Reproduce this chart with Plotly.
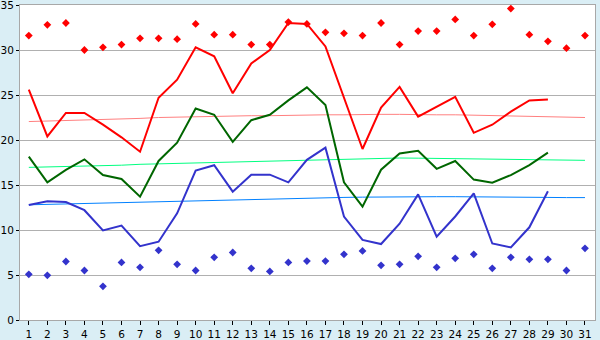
import plotly.graph_objects as go

days = list(range(1, 32))

max_line = [25.6, 20.4, 23.0, 23.0, 21.7, 20.3, 18.7, 24.7, 26.7, 30.3,
            29.3, 25.2, 28.5, 30.0, 33.0, 32.9, 30.4, 24.7, 19.0, 23.6,
            25.9, 22.6, 23.7, 24.8, 20.8, 21.7, 23.15, 24.4, 24.5, None, None]
mean_line = [18.15, 15.3, 16.67, 17.85, 16.1, 15.67, 13.7, 17.67, 19.7, 23.5,
             22.8, 19.8, 22.2, 22.8, 24.4, 25.85, 23.9, 15.3, 12.6, 16.7,
             18.5, 18.8, 16.8, 17.67, 15.6, 15.26, 16.1, 17.2, 18.6, None, None]
min_line = [12.78, 13.2, 13.1, 12.2, 9.96, 10.5, 8.2, 8.7, 11.85, 16.6,
            17.2, 14.26, 16.15, 16.15, 15.3, 17.8, 19.15, 11.5, 8.9, 8.44,
            10.7, 13.96, 9.26, 11.5, 14.07, 8.5, 8.07, 10.3, 14.3, None, None]

max_record = [31.6, 32.8, 33.0, 30.0, 30.3, 30.6, 31.3, 31.3, 31.2, 32.9,
              31.7, 31.7, 30.6, 30.6, 33.1, 32.9, 31.96, 31.85, 31.6, 33.0,
              30.6, 32.1, 32.1, 33.4, 31.6, 32.85, 34.6, 31.7, 30.96, 30.2, 31.6]
min_record = [5.07, 4.96, 6.5, 5.5, 3.74, 6.4, 5.85, 7.74, 6.19, 5.5,
              6.96, 7.5, 5.74, 5.4, 6.4, 6.55, 6.55, 7.3, 7.67, 6.07,
              6.19, 7.07, 5.85, 6.85, 7.3, 5.74, 6.96, 6.74, 6.74, 5.5, 7.96]

max_normal = [22.05, 22.1, 22.15, 22.2, 22.3, 22.35, 22.4, 22.5, 22.55, 22.6,
              22.6, 22.65, 22.7, 22.7, 22.75, 22.75, 22.8, 22.8, 22.85, 22.85,
              22.85, 22.8, 22.8, 22.8, 22.75, 22.7, 22.7, 22.65, 22.6, 22.55, 22.5]
mean_normal = [16.96, 17.0, 17.05, 17.1, 17.15, 17.2, 17.3, 17.35, 17.4, 17.5,
               17.55, 17.6, 17.65, 17.7, 17.75, 17.8, 17.85, 17.9, 17.95, 17.98,
               18.0, 17.98, 17.96, 17.95, 17.92, 17.9, 17.85, 17.82, 17.8, 17.77, 17.74]
min_normal = [12.8, 12.85, 12.9, 12.95, 13.0, 13.05, 13.1, 13.15, 13.2, 13.3,
              13.3, 13.35, 13.4, 13.45, 13.5, 13.55, 13.6, 13.62, 13.65, 13.68,
              13.7, 13.7, 13.7, 13.7, 13.7, 13.68, 13.66, 13.64, 13.62, 13.6, 13.6]

y_ticks = [0, 5, 10, 15, 20, 25, 30, 35]

fig = go.Figure()

def line(y, color, width):
    fig.add_trace(go.Scatter(x=days, y=y, mode="lines",
                             line=dict(color=color, width=width),
                             connectgaps=False, hoverinfo="skip"))

line(max_normal, "#FF8080", 1)
line(mean_normal, "#00FF80", 1)
line(min_normal, "#0080FF", 1)
line(max_line, "#FF0000", 2)
line(mean_line, "#006600", 2)
line(min_line, "#3333CC", 2)

fig.add_trace(go.Scatter(x=days, y=max_record, mode="markers", cliponaxis=False,
                         marker=dict(symbol="diamond", size=6, color="#FF0000")))
fig.add_trace(go.Scatter(x=days, y=min_record, mode="markers", cliponaxis=False,
                         marker=dict(symbol="diamond", size=6, color="#3333CC")))

fig.update_layout(
    width=600, height=340,
    margin=dict(l=20, r=5, t=5, b=20, autoexpand=False),
    paper_bgcolor="#DAEEF5",
    plot_bgcolor="#FFFFFF",
    showlegend=False,
    font=dict(family="DejaVu Sans", size=11, color="#000000"),
)
fig.update_xaxes(range=[0.525, 31.54], tickmode="array", tickvals=days,
                 ticktext=[str(d) for d in days], automargin=False,
                 ticklabeloverflow="allow",
                 showgrid=False, zeroline=False,
                 showline=True, linecolor="#A8A8A8", linewidth=1, mirror=True,
                 ticks="outside", ticklen=4, tickcolor="#000000", tickfont=dict(size=10.5))
fig.update_yaxes(range=[0, 35], tickmode="array", tickvals=y_ticks,
                 ticktext=[str(v) for v in y_ticks], automargin=False,
                 ticklabeloverflow="allow",
                 showgrid=True, gridcolor="#B0B0B0", gridwidth=1, zeroline=False,
                 showline=True, linecolor="#A8A8A8", linewidth=1, mirror=True,
                 ticks="outside", ticklen=3, tickcolor="#000000", tickfont=dict(size=10.5))

fig.write_html("out.html")
